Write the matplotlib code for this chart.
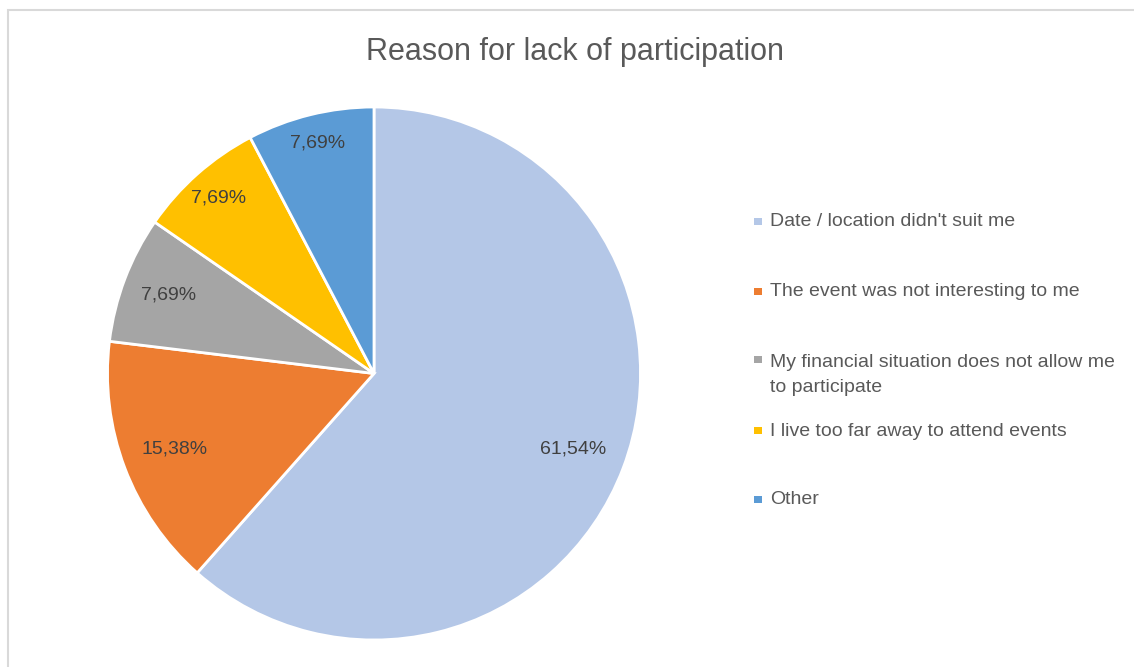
import matplotlib
matplotlib.use("Agg")
import matplotlib.pyplot as plt
from matplotlib.patches import Rectangle
import numpy as np

plt.rcParams['font.family'] = ['Liberation Sans', 'DejaVu Sans']

reasons = [
    "Date / location didn't suit me",
    "The event was not interesting to me",
    "My financial situation does not allow me\nto participate",
    "I live too far away to attend events",
    "Other",
]
shares = [61.54, 15.38, 7.69, 7.69, 7.69]
colors = ['#B4C7E7', '#ED7D31', '#A5A5A5', '#FFC000', '#5B9BD5']

W, H = 1134, 667
fig = plt.figure(figsize=(W / 100, H / 100), dpi=100)
fig.patch.set_facecolor('white')

# chart area border (open to the right and bottom)
fig.add_artist(Rectangle((8 / W, -0.1), 1.2, (H - 10) / H + 0.1,
                         transform=fig.transFigure, fill=False,
                         edgecolor='#D9D9D9', linewidth=1.5))

r = 266.5
cx, cy = 374, H - 373.5
ax = fig.add_axes([(cx - r) / W, (cy - r) / H, 2 * r / W, 2 * r / H])

pct_labels = [f'{v:.2f}%'.replace('.', ',') for v in shares]
wedges, texts = ax.pie(
    shares, colors=colors, startangle=90, counterclock=False,
    radius=1, labels=pct_labels, labeldistance=0.8,
    wedgeprops=dict(edgecolor='white', linewidth=2),
    textprops=dict(color='#404040', fontsize=14),
)
# narrow slices get their labels pushed further out
label_dist = [0.8, 0.8, 0.825, 0.88, 0.89]
for w, t, d in zip(wedges, texts, label_dist):
    ang = np.deg2rad((w.theta1 + w.theta2) / 2)
    t.set_position((d * np.cos(ang), d * np.sin(ang)))
    t.set_ha('center')
    t.set_va('center')
ax.set_xlim(-1, 1)
ax.set_ylim(-1, 1)
ax.set_aspect('equal')
ax.axis('off')

fig.text(575 / W, 1 - 52 / H, 'Reason for lack of participation',
         ha='center', va='center', fontsize=22, color='#595959')

# legend entries
legend_y = [222, 292, 375, 431, 500]
for name, col, y in zip(reasons, colors, legend_y):
    sq_y = (y - 14 if '\n' in name else y) - 1
    fig.add_artist(Rectangle((754 / W, 1 - (sq_y + 3.5) / H), 8 / W, 7 / H,
                             transform=fig.transFigure, facecolor=col,
                             edgecolor='none'))
    fig.text(770 / W, 1 - y / H, name, ha='left', va='center',
             fontsize=14, color='#595959', linespacing=1.6)

fig.savefig('out.png', dpi=100)
